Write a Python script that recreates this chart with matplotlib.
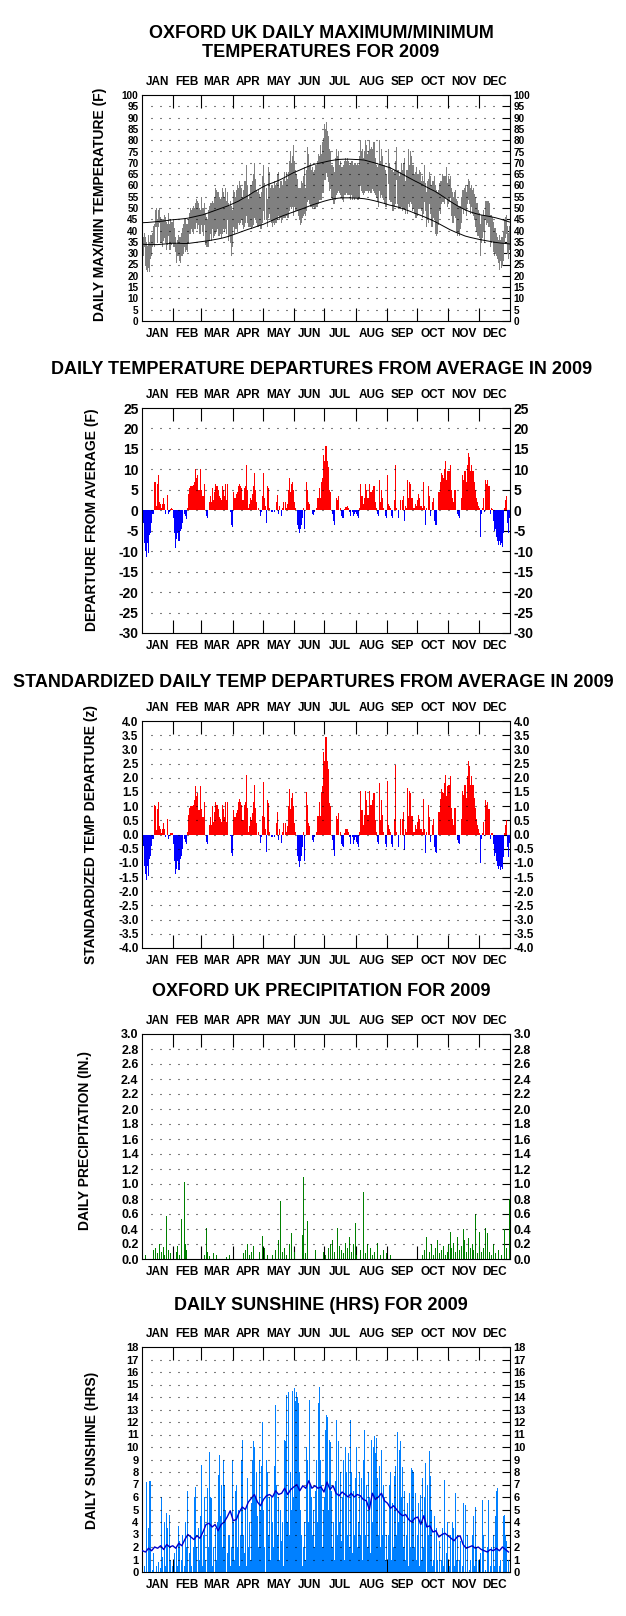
import matplotlib
matplotlib.use("Agg")
import matplotlib.pyplot as plt
import numpy as np

plt.rcParams["font.family"] = ["Liberation Sans", "DejaVu Sans"]
plt.rcParams["font.weight"] = "bold"

MONTHS = ["JAN", "FEB", "MAR", "APR", "MAY", "JUN", "JUL", "AUG", "SEP", "OCT", "NOV", "DEC"]
MONTH_START = [0, 31, 59, 90, 120, 151, 181, 212, 243, 273, 304, 334, 365]

# daily maximum temperature (F), one row per month
TMAX = [
    [37, 39, 37, 35, 33, 38, 35, 38, 38, 39, 42, 43, 49, 50, 45, 49, 50, 46, 45, 45, 45, 47, 46, 44, 43, 48, 43, 45, 44, 44, 45],
    [41, 37, 34, 36, 38, 37, 37, 39, 41, 43, 45, 45, 43, 43, 45, 48, 50, 49, 50, 51, 50, 52, 54, 53, 52, 50, 49, 55],
    [50, 50, 52, 48, 46, 45, 49, 51, 52, 52, 53, 52, 55, 59, 58, 57, 57, 55, 54, 55, 59, 57, 55, 59, 53, 57, 52, 51, 53, 51, 49],
    [58, 57, 55, 58, 60, 59, 62, 60, 59, 55, 58, 62, 62, 69, 60, 54, 56, 60, 60, 62, 65, 70, 63, 58, 57, 58, 56, 55, 57, 64],
    [69, 61, 59, 54, 68, 66, 59, 60, 60, 59, 62, 60, 61, 65, 66, 59, 62, 62, 60, 63, 66, 62, 66, 63, 66, 71, 75, 70, 73, 78, 71],
    [67, 65, 63, 59, 59, 59, 62, 61, 64, 68, 59, 67, 77, 74, 69, 70, 67, 68, 66, 67, 69, 69, 71, 74, 73, 78, 74, 79, 81, 87],
    [85, 88, 84, 82, 76, 75, 69, 69, 68, 66, 72, 76, 73, 75, 69, 71, 68, 68, 69, 71, 72, 71, 72, 71, 69, 70, 71, 71, 69, 70, 70],
    [69, 70, 69, 73, 80, 75, 76, 72, 75, 80, 78, 74, 75, 80, 76, 77, 76, 79, 79, 72, 69, 68, 69, 80, 71, 76, 73, 69, 69, 67, 65],
    [76, 70, 68, 67, 67, 66, 67, 71, 77, 67, 67, 64, 66, 70, 67, 70, 72, 62, 67, 67, 76, 69, 75, 73, 69, 69, 65, 66, 68, 65],
    [65, 67, 66, 62, 64, 62, 69, 61, 57, 62, 63, 66, 64, 60, 62, 62, 64, 60, 58, 57, 58, 61, 62, 62, 65, 64, 64, 64, 68, 61, 64],
    [63, 64, 59, 57, 55, 57, 58, 54, 53, 51, 51, 51, 55, 58, 58, 59, 60, 57, 60, 63, 62, 59, 60, 58, 59, 56, 55, 52, 52, 49],
    [48, 43, 47, 47, 49, 47, 53, 53, 53, 53, 52, 47, 47, 46, 44, 41, 41, 39, 37, 36, 38, 36, 37, 37, 40, 45, 46, 47, 42, 39, 42],
]

# daily minimum temperature (F)
TMIN = [
    [29, 33, 25, 23, 22, 24, 22, 28, 29, 33, 34, 33, 42, 42, 35, 42, 44, 35, 35, 33, 36, 37, 35, 32, 34, 38, 32, 32, 34, 35, 33],
    [33, 31, 26, 29, 29, 27, 26, 29, 29, 30, 33, 31, 32, 31, 35, 39, 39, 41, 40, 39, 41, 41, 44, 41, 43, 39, 39, 43],
    [40, 38, 43, 34, 33, 33, 33, 36, 39, 36, 41, 37, 38, 39, 40, 41, 38, 38, 39, 37, 39, 41, 40, 41, 39, 45, 36, 38, 35, 29, 33],
    [42, 39, 41, 41, 40, 44, 43, 44, 45, 43, 41, 42, 44, 47, 44, 42, 42, 42, 41, 42, 43, 46, 45, 44, 42, 42, 43, 41, 41, 44],
    [49, 45, 45, 42, 46, 48, 45, 44, 42, 44, 43, 44, 44, 45, 47, 45, 46, 44, 45, 46, 46, 46, 47, 46, 46, 49, 51, 50, 51, 47, 51],
    [49, 49, 49, 47, 45, 43, 44, 46, 47, 48, 47, 49, 53, 54, 52, 51, 51, 50, 51, 50, 50, 51, 51, 52, 54, 54, 54, 57, 57, 63],
    [63, 66, 64, 62, 58, 59, 55, 54, 52, 52, 54, 56, 57, 58, 57, 56, 55, 54, 53, 56, 56, 57, 56, 56, 56, 54, 56, 54, 55, 54, 55],
    [55, 54, 54, 55, 60, 58, 57, 56, 57, 58, 58, 58, 57, 58, 57, 57, 59, 58, 57, 56, 55, 53, 51, 58, 55, 56, 55, 54, 52, 51, 51],
    [61, 54, 53, 53, 49, 49, 51, 52, 63, 52, 50, 50, 50, 51, 49, 50, 50, 48, 50, 48, 52, 51, 53, 52, 49, 50, 48, 46, 46, 47],
    [50, 50, 50, 49, 46, 48, 53, 49, 42, 45, 44, 52, 48, 42, 42, 46, 45, 39, 38, 39, 43, 49, 48, 52, 53, 53, 52, 55, 55, 51, 52],
    [53, 55, 47, 44, 44, 47, 46, 40, 38, 39, 38, 41, 44, 50, 48, 50, 49, 47, 52, 54, 52, 48, 51, 48, 47, 45, 42, 40, 38, 38],
    [37, 29, 35, 37, 40, 35, 45, 43, 44, 42, 42, 33, 35, 36, 31, 29, 30, 29, 28, 26, 23, 27, 24, 25, 27, 35, 37, 39, 30, 28, 32],
]

# normal max / min curves, every 5 days (last point day 364)
NORM_DAYS = list(range(0, 361, 5)) + [364]
NORM_MAX = [43.5, 43.6, 43.8, 44.0, 44.2, 44.5, 44.8, 45.0, 45.2, 45.5,
            46.0, 46.5, 47.0, 47.8, 48.6, 49.4, 50.2, 51.0, 52.0, 53.0,
            54.3, 55.5, 57.0, 58.2, 59.5, 60.5, 61.3, 62.2, 63.3, 64.5,
            65.7, 66.6, 67.6, 68.5, 69.3, 69.8, 70.3, 70.8, 71.2, 71.5,
            71.6, 71.6, 71.5, 71.4, 71.2, 70.6, 70.0, 69.3, 68.6, 67.9,
            66.8, 65.6, 64.4, 63.2, 62.0, 60.9, 59.7, 58.5, 57.4, 56.0,
            54.5, 53.0, 51.6, 50.3, 49.2, 48.3, 47.6, 47.0, 46.6, 46.2,
            45.7, 45.1, 44.4, 43.8]
NORM_MIN = [34.0, 33.8, 33.8, 33.8, 34.0, 34.2, 34.4, 34.4, 34.3, 34.3,
            34.6, 34.9, 35.2, 35.5, 35.9, 36.3, 36.8, 37.4, 38.2, 39.0,
            39.8, 40.6, 41.3, 42.1, 42.8, 43.8, 44.8, 45.8, 46.7, 47.5,
            48.3, 49.1, 49.9, 50.8, 51.6, 52.3, 53.0, 53.6, 54.1, 54.4,
            54.5, 54.5, 54.4, 54.3, 54.1, 53.7, 53.2, 52.6, 52.0, 51.3,
            50.8, 50.2, 49.4, 48.6, 47.7, 46.9, 46.0, 45.0, 44.0, 42.8,
            41.6, 40.4, 39.4, 38.5, 37.6, 37.0, 36.5, 36.0, 35.6, 35.2,
            34.8, 34.5, 34.3, 34.1]

# daily departure from average (F)
DEPART = [
    [-6, -3, -8, -10, -11.5, -8, -10.5, -6, -5.5, -3, -1, -1, 7, 6.8, 1, 6.5, 8.5, 2, 1.5, 0.5, 1.5, 3, 1.5, -0.8, 0, 3.8, -1, -0.5, 0.3, 0.5, 0.3],
    [-2, -5.5, -9.3, -7, -5.5, -7.5, -7.5, -5, -4.5, -3, 0, -1, -1.5, -2.2, 0.5, 4, 5.5, 6, 6, 6, 6.2, 7, 10, 8, 8.5, 5, 5, 10],
    [5, 3.5, 6.5, 0, -1.5, -2, 0, 2, 3.5, 2, 5.5, 2.5, 4.5, 6.5, 6, 6, 5, 3.5, 3, 2.5, 6, 5, 3.5, 6.5, 2.5, 6.5, 0, 0, -0.3, -3.5, -4],
    [4.5, 3, 3, 4, 4.5, 6, 6.5, 6, 5.5, 2.5, 2.5, 5.5, 6, 11, 5, 0.5, 1.5, 3, 2.5, 4, 6, 9, 5, 2, 0, 0.5, 0, -1.5, -0.5, 3.5],
    [9, 3, 1, -3, 6, 5.5, 0.5, 0, -0.5, -0.5, 0, -0.5, 0, 2, 3.8, -1, 1, 0, -1.5, 0.5, 2, 0, 2, 0.5, 1.5, 5, 8, 4.5, 6.5, 7, 5],
    [2, 0.5, 0, -3.5, -4.5, -5.5, -4.5, -3.5, -2, 0.5, -4.5, 0, 7, 5, 2, 1.5, 0, 0, -1, -1.2, -0.5, 0, 0.5, 3, 3, 5.5, 3, 7, 8, 13.5],
    [12, 15.8, 12, 10.5, 5, 4.5, 0, -1, -2.5, -3.5, 0, 3, 2.5, 3.5, 0, 0.5, -1.5, -1.8, -2, 0.2, 0.8, 0.8, 1, 0.5, -0.5, -1.5, 0, -0.5, -1.5, -1, -0.5],
    [-1, -1.5, -2, 0.5, 6.5, 3.5, 3.5, 1.5, 3, 6.5, 5, 3, 3, 6.5, 4.5, 4.5, 5, 6, 6, 2, 0.5, -1, -1.5, 7.5, 2, 5, 3, 0.5, 0, -1.5, -2],
    [8.5, 1.5, 1, 0.5, -1.5, -2, 0, 2.5, 11, 0.5, 0, -2, 0, 2.5, 0, 2.5, 3.5, -2.5, 1, 0.5, 7.5, 3, 7, 6.5, 3, 3, 0.5, 0.5, 1.5, 1],
    [2.5, 4, 3, 1, 1, 0.5, 7, 1, -3.5, 0.5, 0, 6, 3.5, -1.5, 0, 2, 3, -2.5, -3.5, -3.5, 0, 4.5, 4.5, 7, 9, 8.5, 8, 10, 12, 7.5, 9.5],
    [9.5, 11, 5, 3, 2, 5, 5, 0, -1, -1.5, -1.8, 0, 3, 8.5, 7.5, 9.5, 9.5, 7, 11, 14, 13, 9.5, 11, 9.5, 9.5, 7, 5, 3, 2, 1],
    [0.5, -6.5, -1, 0.5, 3, -0.5, 7.5, 6.5, 7.5, 6, 6, -1, 0.5, 0.2, -2.5, -5, -4.5, -6.5, -7.5, -8.5, -7.5, -8.5, -8, -9, -5.5, 0.5, 2.5, 3.5, -3, -5.5, -2],
]

# standardized daily departure (z)
ZDEPART = [
    [-0.8, -0.4, -1.1, -1.4, -1.6, -1.1, -1.45, -0.85, -0.75, -0.4, -0.15, -0.15, 1.05, 1.0, 0.15, 0.9, 1.15, 0.3, 0.2, 0.07, 0.2, 0.4, 0.2, -0.1, 0, 0.55, -0.15, -0.07, 0.05, 0.07, 0.05],
    [-0.35, -0.95, -1.4, -1.2, -0.95, -1.25, -1.25, -0.85, -0.75, -0.5, 0, -0.15, -0.25, -0.35, 0.1, 0.7, 0.95, 1.0, 1.0, 1.0, 1.05, 1.2, 1.7, 1.35, 1.45, 0.85, 0.85, 1.7],
    [0.9, 0.6, 1.15, 0, -0.25, -0.35, 0, 0.35, 0.6, 0.35, 1.0, 0.45, 0.8, 1.15, 1.05, 1.05, 0.9, 0.6, 0.55, 0.45, 1.05, 0.9, 0.6, 1.15, 0.45, 1.15, 0, 0, -0.05, -0.65, -0.75],
    [0.85, 0.6, 0.6, 0.75, 0.85, 1.15, 1.25, 1.15, 1.05, 0.5, 0.5, 1.05, 1.15, 2.1, 0.95, 0.1, 0.3, 0.6, 0.5, 0.75, 1.15, 1.75, 0.95, 0.4, 0, 0.1, 0, -0.3, -0.1, 0.65],
    [1.85, 0.6, 0.2, -0.6, 1.2, 1.1, 0.1, 0, -0.1, -0.1, 0, -0.1, 0, 0.4, 0.8, -0.2, 0.2, 0, -0.3, 0.1, 0.4, 0, 0.4, 0.1, 0.3, 1.0, 1.6, 0.9, 1.3, 1.45, 1.0],
    [0.4, 0.1, 0, -0.75, -0.95, -1.15, -0.95, -0.75, -0.45, 0.1, -0.95, 0, 1.5, 1.05, 0.4, 0.3, 0, 0, -0.2, -0.25, -0.1, 0, 0.1, 0.65, 0.65, 1.15, 0.65, 1.5, 1.7, 2.9],
    [2.6, 3.45, 2.6, 2.3, 1.1, 1.0, 0, -0.2, -0.55, -0.75, 0, 0.65, 0.55, 0.75, 0, 0.1, -0.35, -0.4, -0.45, 0.05, 0.2, 0.2, 0.2, 0.1, -0.1, -0.35, 0, -0.1, -0.35, -0.2, -0.1],
    [-0.25, -0.35, -0.45, 0.1, 1.55, 0.85, 0.85, 0.35, 0.7, 1.55, 1.2, 0.7, 0.7, 1.55, 1.05, 1.05, 1.2, 1.45, 1.45, 0.5, 0.1, -0.25, -0.35, 1.8, 0.5, 1.2, 0.7, 0.1, 0, -0.35, -0.45],
    [1.9, 0.35, 0.2, 0.1, -0.35, -0.45, 0, 0.55, 2.45, 0.1, 0, -0.45, 0, 0.55, 0, 0.55, 0.8, -0.55, 0.2, 0.1, 1.65, 0.65, 1.55, 1.45, 0.65, 0.65, 0.1, 0.1, 0.35, 0.2],
    [0.45, 0.7, 0.55, 0.2, 0.2, 0.1, 1.25, 0.2, -0.65, 0.1, 0, 1.05, 0.6, -0.25, 0, 0.35, 0.55, -0.45, -0.6, -0.65, 0, 0.8, 0.8, 1.25, 1.6, 1.5, 1.45, 1.8, 2.1, 1.35, 1.7],
    [1.75, 2.05, 0.95, 0.55, 0.35, 0.95, 0.95, 0, -0.2, -0.3, -0.35, 0, 0.55, 1.55, 1.4, 1.75, 1.75, 1.3, 2.05, 2.6, 2.4, 1.75, 2.05, 1.75, 1.75, 1.3, 0.95, 0.55, 0.35, 0.2],
    [0.05, -1.0, -0.15, 0.05, 0.45, -0.05, 1.2, 1.05, 1.15, 0.9, 0.9, -0.15, 0.05, 0.05, -0.35, -0.75, -0.65, -0.95, -1.1, -1.2, -1.1, -1.25, -1.15, -1.2, -0.8, 0.05, 0.35, 0.5, -0.45, -0.8, -0.3],
]

# days with measurable precipitation (day of year, 0 = Jan 1) and amount (in.)
RAIN_DAY = [2, 10, 12, 14, 16, 18, 20, 21, 23, 25, 27, 33, 34, 36, 38, 41, 42, 43,
            61, 63, 64, 66, 70, 73, 83, 86, 100, 102, 104, 106, 108, 110, 116, 119, 121, 123,
            128, 131, 134, 136, 138, 140, 142, 145, 147, 150, 158, 159, 161, 163, 171,
            179, 181, 184, 186, 188, 190, 193, 195, 197, 199, 201, 203, 205, 207, 209, 211,
            212, 216, 219, 221, 223, 226, 228, 230, 233, 236, 239, 242, 245,
            277, 279, 281, 284, 286, 288, 290, 292, 294, 296, 298, 300, 302, 303,
            305, 306, 308, 310, 312, 314, 316, 318, 319, 321, 323, 325, 327, 328, 330, 332,
            334, 336, 338, 340, 342, 344, 346, 348, 350, 353, 356, 359, 361, 364]
RAIN_IN = [0.05, 0.12, 0.15, 0.08, 0.2, 0.1, 0.16, 0.05, 0.57, 0.12, 0.08, 0.1, 0.18, 0.06, 0.54, 1.03, 0.2, 0.12,
           0.06, 0.42, 0.1, 0.04, 0.08, 0.05, 0.03, 0.05, 0.08, 0.12, 0.2, 0.05, 0.1, 0.18, 0.1, 0.31, 0.15, 0.06,
           0.05, 0.12, 0.25, 0.77, 0.1, 0.15, 0.06, 0.2, 0.35, 0.1, 0.32, 1.1, 0.08, 0.51, 0.12,
           0.1, 0.05, 0.15, 0.2, 0.25, 0.1, 0.41, 0.18, 0.12, 0.08, 0.22, 0.15, 0.3, 0.1, 0.2, 0.48,
           0.05, 0.12, 0.89, 0.08, 0.2, 0.15, 0.05, 0.1, 0.22, 0.06, 0.12, 0.08, 0.05,
           0.05, 0.12, 0.3, 0.1, 0.2, 0.06, 0.15, 0.25, 0.08, 0.12, 0.18, 0.05, 0.1, 0.2,
           0.36, 0.15, 0.22, 0.1, 0.3, 0.12, 0.18, 0.4, 0.25, 0.1, 0.28, 0.15, 0.2, 0.12, 0.6, 0.08,
           0.36, 0.1, 0.15, 0.42, 0.35, 0.1, 0.05, 0.2, 0.08, 0.12, 0.06, 0.4, 0.15, 0.8]

# daily sunshine (hrs)
SUN = [
    [0, 0.5, 0, 7.2, 0, 3.5, 7.3, 7.3, 0, 0.2, 1.5, 0, 0, 0.5, 0, 0.8, 0, 0.3, 6, 1.2, 0, 4, 0.5, 4.7, 3.5, 0, 4.6, 1, 0, 0.5, 0],
    [1.5, 0, 2, 0.5, 3.7, 2.5, 0, 1, 3, 0, 0.5, 4, 2, 6.5, 0, 1.5, 3, 0.5, 0, 2, 6, 6.8, 2, 0, 3.5, 1, 4.5, 8.6],
    [0.5, 3, 6, 1, 0, 6.7, 2, 9.6, 6, 5.9, 0.5, 2, 0, 3.5, 1, 4, 7.8, 9.4, 4.5, 7, 2, 9, 7, 5, 0, 1.5, 3, 3, 0.5, 2, 9],
    [4, 1, 6.5, 7, 2, 5, 0.5, 3, 9, 10.6, 3, 1.5, 5, 0.5, 7.5, 2, 4, 1, 5.5, 9, 10.5, 10, 6, 8, 4.5, 2, 9, 5, 8.5, 12],
    [5, 2, 9, 8, 3, 6, 1, 6, 4, 2, 8.5, 13.4, 7, 3, 6, 1, 5, 2.5, 4, 0.5, 10.6, 10.5, 14.2, 4, 14.4, 3, 8, 5, 14.5, 6, 14.7],
    [13.7, 14.4, 14, 13.5, 8, 5, 3, 0.5, 2, 4, 1, 10, 9, 4, 13.8, 7, 6, 3, 5, 2, 6.5, 9, 4, 13.5, 14.8, 9, 7, 2, 5, 6],
    [11.4, 12.6, 12.4, 5, 10.6, 10.4, 6.5, 2, 4, 1, 7.3, 12.2, 3, 10.5, 4, 8, 2.5, 6, 9, 1, 10, 8, 3, 9.5, 2, 12.2, 8, 1.5, 6.5, 3, 7.5],
    [10, 2, 4, 8, 3, 7.5, 1, 9, 11.4, 3, 7, 2, 8, 6, 1.5, 10.6, 4, 10, 10.9, 9.5, 10.7, 7.5, 3, 8.5, 2, 9.8, 3, 7, 6, 1, 3],
    [3, 7, 8, 1, 5.5, 2, 7.7, 8.5, 3, 11.2, 4, 9.8, 10.5, 6, 8.4, 2, 6.5, 1, 3, 5.5, 0.5, 6.3, 2, 8.3, 8.2, 8, 2, 6.3, 1, 3],
    [5.5, 0.5, 6.2, 1, 7.5, 2, 6, 8.7, 0, 7, 3, 9.7, 7.7, 5, 0.5, 1, 4.5, 0, 3.5, 1, 0, 2.5, 0, 1, 3.5, 0.5, 7.4, 0, 1.5, 4, 0],
    [0.5, 3, 0, 4, 3.5, 0.5, 6.3, 1, 3, 0, 1, 2.5, 0, 0.5, 5.5, 0, 5.4, 0, 3, 0, 0.2, 1, 0, 3, 4.5, 0.5, 5.2, 2, 0, 1],
    [0, 1.5, 0, 5.8, 3, 0, 0.2, 0, 2, 5.8, 0, 0.5, 2, 0, 3, 0.5, 4.5, 6.5, 6.7, 0, 0.5, 1, 0, 0, 4.5, 4.6, 3, 2.5, 0, 1, 0],
]

# running mean of sunshine, every 3 days from Jan 1
SUN_MEAN = [1.7, 1.6, 1.9, 1.7, 2.0, 1.9, 2.1, 1.8, 2.2, 2.0,
            2.1, 1.9, 2.3, 2.1, 2.6, 3.0, 2.8, 2.6, 2.9, 2.7,
            3.2, 3.8, 3.9, 3.6, 3.8, 3.3, 3.8, 4.0, 4.4, 4.9,
            4.1, 4.2, 4.8, 5.2, 5.0, 5.6, 5.9, 6.2, 5.6, 5.3,
            5.8, 6.1, 6.2, 6.0, 6.5, 6.2, 6.3, 6.7, 6.2, 6.6,
            6.8, 7.0, 6.5, 6.9, 6.7, 7.3, 6.7, 6.9, 6.7, 6.8,
            6.4, 7.2, 6.6, 6.9, 6.3, 6.1, 6.4, 6.2, 6.0, 6.3,
            6.0, 6.2, 6.1, 5.8, 5.7, 5.0, 6.3, 5.8, 6.0, 6.3,
            5.7, 5.5, 5.1, 5.3, 5.0, 4.7, 4.5, 4.6, 4.2, 4.0,
            4.3, 4.4, 3.8, 4.5, 3.6, 3.7, 3.2, 3.3, 2.8, 3.0,
            3.1, 2.9, 2.7, 2.5, 2.8, 2.9, 2.2, 1.9, 2.0, 2.1,
            1.9, 2.0, 1.8, 1.7, 1.6, 1.8, 1.7, 1.9, 1.7, 2.0,
            1.8, 1.6]

W, H = 626, 1616
AX_LEFT, AX_RIGHT = 142, 510


def flat(rows):
    out = np.concatenate([np.asarray(r, dtype=float) for r in rows])
    assert len(out) == 365, len(out)
    return out


def make_axes(fig, top, bottom):
    return fig.add_axes([AX_LEFT / W, 1 - bottom / H, (AX_RIGHT - AX_LEFT) / W, (bottom - top) / H])


def style_axes(ax, yticks, ylabels, tick_size):
    ax.set_xlim(0, 365)
    ax.set_ylim(yticks[0], yticks[-1])
    mids = [(a + b) / 2 for a, b in zip(MONTH_START[:-1], MONTH_START[1:])]
    ax.set_xticks(mids)
    ax.set_xticklabels(MONTHS)
    ax.set_xticks(MONTH_START[1:-1], minor=True)
    ax.tick_params(axis="x", which="major", length=0, labeltop=True, labelbottom=True,
                   labelsize=8.5, pad=5)
    ax.tick_params(axis="x", which="minor", top=True, bottom=True, direction="in",
                   length=9.5, width=0.8)
    ax.set_yticks(yticks)
    ax.set_yticklabels(ylabels)
    ax.tick_params(axis="y", left=False, right=True, labelleft=True, labelright=True,
                   direction="in", length=6, width=0.8, labelsize=tick_size, pad=2.5)
    for lab in ax.get_xticklabels() + ax.get_yticklabels():
        lab.set_fontweight("bold")
    for sp in ax.spines.values():
        sp.set_linewidth(0.8)
    # dotted rows at every inner tick level
    for y in yticks[1:-1]:
        ax.plot([9, 357], [y, y], color="black", lw=0.8, linestyle=(0, (0.9, 7.2)),
                dash_capstyle="butt", zorder=6)


def main():
    tmax = flat(TMAX)
    tmin = flat(TMIN)
    dep = flat(DEPART)
    zdep = flat(ZDEPART)
    sun = flat(SUN)
    days = np.arange(365) + 0.5

    fig = plt.figure(figsize=(W / 100, H / 100), dpi=100)

    def fy(y):
        return 1 - y / H

    # panel 1: max/min temperatures
    ax = make_axes(fig, 95, 321)
    ax.vlines(days, tmin, tmax, color="#808080", lw=0.45, antialiased=False, zorder=2)
    ax.plot(np.array(NORM_DAYS) + 0.5, NORM_MAX, color="black", lw=0.7, zorder=3)
    ax.plot(np.array(NORM_DAYS) + 0.5, NORM_MIN, color="black", lw=0.7, zorder=3)
    t = list(range(0, 101, 5))
    style_axes(ax, t, [str(v) for v in t], 7.2)
    fig.text(321 / W, fy(43), "OXFORD UK DAILY MAXIMUM/MINIMUM\nTEMPERATURES FOR 2009",
             ha="center", va="center", fontsize=13, fontweight="bold", linespacing=1.1)
    fig.text(100 / W, fy(204), "DAILY MAX/MIN TEMPERATURE (F)", rotation=90,
             ha="center", va="center", fontsize=10, fontweight="bold")

    # panel 2: departures
    ax = make_axes(fig, 408, 633)
    ax.bar(days, dep, width=1.0, color=np.where(dep >= 0, "#ff0000", "#0000ff"),
           linewidth=0, zorder=2)
    t = list(range(-30, 26, 5))
    style_axes(ax, t, [str(v) for v in t], 10)
    fig.text(322 / W, fy(370), "DAILY TEMPERATURE DEPARTURES FROM AVERAGE IN 2009",
             ha="center", va="center", fontsize=13, fontweight="bold")
    fig.text(92 / W, fy(520), "DEPARTURE FROM AVERAGE (F)", rotation=90,
             ha="center", va="center", fontsize=10, fontweight="bold")

    # panel 3: standardized departures
    ax = make_axes(fig, 721, 948)
    ax.bar(days, zdep, width=1.0, color=np.where(zdep >= 0, "#ff0000", "#0000ff"),
           linewidth=0, zorder=2)
    t = [v / 2 for v in range(-8, 9)]
    style_axes(ax, t, [f"{v:.1f}" for v in t], 8.5)
    fig.text(313 / W, fy(682), "STANDARDIZED DAILY TEMP DEPARTURES FROM AVERAGE IN 2009",
             ha="center", va="center", fontsize=13, fontweight="bold")
    fig.text(91 / W, fy(834), "STANDARDIZED TEMP DEPARTURE (z)", rotation=90,
             ha="center", va="center", fontsize=10, fontweight="bold")

    # panel 4: precipitation
    ax = make_axes(fig, 1034, 1259)
    ax.vlines(np.array(RAIN_DAY) + 0.5, 0, RAIN_IN, color="#008000", lw=0.45,
              antialiased=False, zorder=2)
    t = [v / 5 for v in range(0, 16)]
    style_axes(ax, t, [f"{v:.1f}" for v in t], 9)
    fig.text(321 / W, fy(992), "OXFORD UK PRECIPITATION FOR 2009",
             ha="center", va="center", fontsize=13, fontweight="bold")
    fig.text(85 / W, fy(1141), "DAILY PRECIPITATION (IN.)", rotation=90,
             ha="center", va="center", fontsize=10, fontweight="bold")

    # panel 5: sunshine
    ax = make_axes(fig, 1347, 1572)
    ax.vlines(days, 0, sun, color="#0080ff", lw=0.45, antialiased=False, zorder=2)
    mean_days = np.arange(0, 365, 3)[:len(SUN_MEAN)] + 0.5
    ax.plot(mean_days, SUN_MEAN, color="#0000cc", lw=1.0, zorder=4)
    t = list(range(0, 19))
    style_axes(ax, t, [str(v) for v in t], 8)
    fig.text(321 / W, fy(1306), "DAILY SUNSHINE (HRS) FOR 2009",
             ha="center", va="center", fontsize=13, fontweight="bold")
    fig.text(92 / W, fy(1450), "DAILY SUNSHINE (HRS)", rotation=90,
             ha="center", va="center", fontsize=10, fontweight="bold")

    fig.savefig("out.png", dpi=100)
    plt.close(fig)


if __name__ == "__main__":
    main()
